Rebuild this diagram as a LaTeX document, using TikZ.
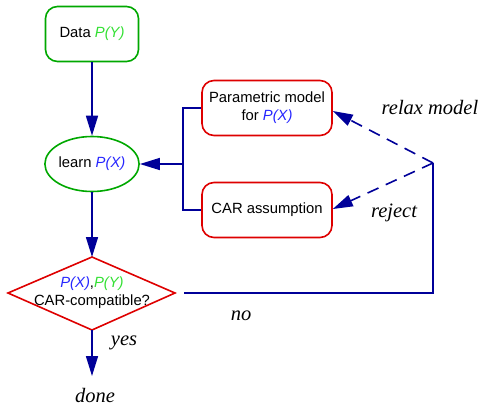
\documentclass[tikz,border=0pt]{standalone}
\usepackage{fontspec}
\setmainfont{Liberation Sans}
\newfontfamily\lblfont{Liberation Serif}
\usetikzlibrary{shapes.geometric,arrows.meta}
\definecolor{navy}{rgb}{0,0,0.6}
\definecolor{pxblue}{rgb}{0.15,0.15,1}
\definecolor{pygreen}{rgb}{0.2,0.88,0.2}
\definecolor{boxgreen}{rgb}{0,0.66,0}
\definecolor{boxred}{rgb}{0.87,0,0}
\newcommand{\PX}{{\color{pxblue}\itshape P(X)}}
\newcommand{\PY}{{\color{pygreen}\itshape P(Y)}}
\tikzset{
  nodefont/.style={font=\fontsize{14.8}{18}\selectfont},
  greenbox/.style={draw=boxgreen,line width=1.6pt,rounded corners=12pt,minimum width=93pt,minimum height=55pt,inner sep=0pt,nodefont},
  redbox/.style={draw=boxred,line width=1.6pt,rounded corners=12pt,minimum width=130pt,minimum height=55pt,inner sep=0pt,align=center,nodefont},
  flow/.style={draw=navy,line width=1.6pt,-{Triangle[length=20pt,width=12pt]}},
  link/.style={draw=navy,line width=1.6pt},
  dlink/.style={draw=navy,line width=1.6pt,dash pattern=on 12pt off 8pt,-{Triangle[length=20pt,width=12pt]}},
  lbl/.style={font=\fontsize{20.5}{24}\selectfont\lblfont\itshape,inner sep=0pt}
}
\begin{document}
\begin{tikzpicture}[x=1pt,y=-1pt]
\useasboundingbox (0,0) rectangle (485,405);
\node[greenbox] (data) at (92,34) {Data \PY};
\node[greenbox,ellipse,rounded corners=0pt] (learn) at (92,164) {learn \PX};
\node[redbox] (param) at (267,108) {Parametric model\\for \PX};
\node[redbox] (car) at (267,210) {CAR assumption};
\coordinate (dtop) at (92,257);
\coordinate (dright) at (175,293);
\coordinate (dbot) at (92,330);
\coordinate (dleft) at (8,293);
\draw[draw=boxred,line width=1.6pt,line join=miter] (dleft) -- (dtop) -- (dright) -- (dbot) -- cycle;
\node[align=center,inner sep=0pt,nodefont] (test) at (92,293) {\PX,\PY\\CAR-compatible?};
\coordinate (split) at (183,164);
\coordinate (corner) at (433,163);
\coordinate (turn) at (433,293);
\coordinate (noend) at (184,293);
\coordinate (doneend) at (92,376);
\node[lbl] (done) at (95,395) {done};
\node[lbl] (yes) at (124,343) {yes};
\node[lbl] (no) at (241,316) {no};
\node[lbl] (relax) at (430,107) {relax model};
\node[lbl] (reject) at (394,213) {reject};
\draw[flow] (data) -- (learn);
\draw[flow] (learn) -- (dtop);
\draw[flow] (dbot) -- (doneend);
\draw[flow] (split) -- (learn);
\draw[link] (param.west) -| (split) |- (car.west);
\draw[link] (noend) -- (turn) -- (corner);
\draw[dlink] (corner) -- (param.east |- 0,111);
\draw[dlink] (corner) -- (car.east |- 0,209);
\end{tikzpicture}
\end{document}
